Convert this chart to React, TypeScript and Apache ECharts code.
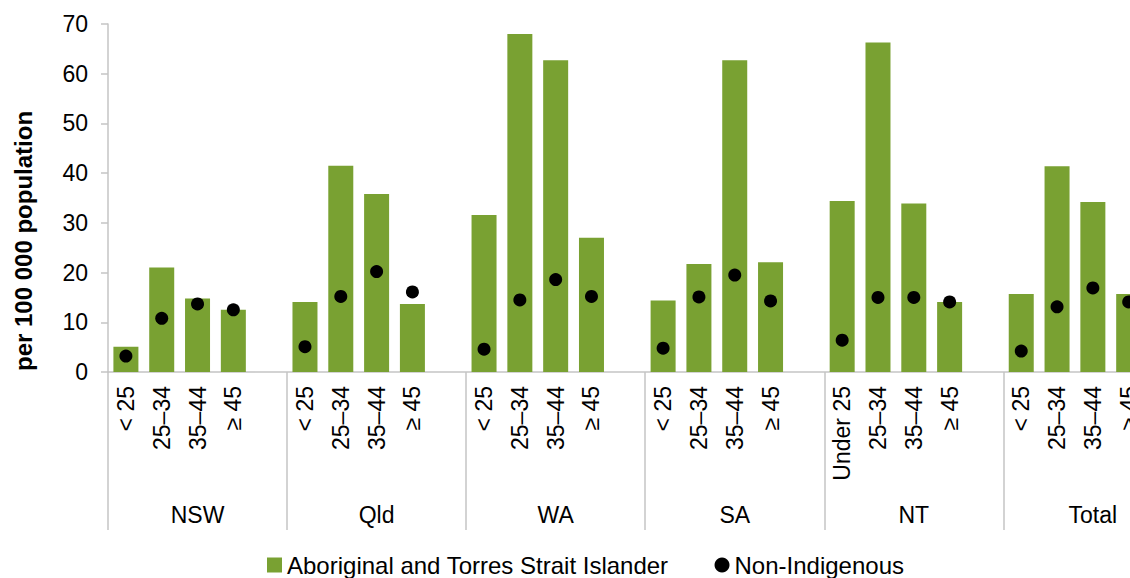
import React, { useEffect, useRef } from "react";
import * as echarts from "echarts";

const groups = ["NSW", "Qld", "WA", "SA", "NT", "Total"];
const ageLabels = ["< 25", "25–34", "35–44", "≥ 45"];
const ageLabelsNT = ["Under 25", "25–34", "35–44", "≥ 45"];

// Aboriginal and Torres Strait Islander (per 100 000)
const indNSW = [5.1, 21.0, 14.8, 12.5];
const indQld = [14.1, 41.5, 35.8, 13.7];
const indWA = [31.6, 68.0, 62.7, 27.0];
const indSA = [14.4, 21.7, 62.7, 22.1];
const indNT = [34.4, 66.3, 33.9, 14.1];
const indTotal = [15.7, 41.4, 34.2, 15.7];

// Non-Indigenous (per 100 000)
const nonNSW = [3.2, 10.8, 13.7, 12.5];
const nonQld = [5.1, 15.2, 20.2, 16.1];
const nonWA = [4.6, 14.5, 18.6, 15.2];
const nonSA = [4.8, 15.1, 19.5, 14.3];
const nonNT = [6.4, 15.0, 15.0, 14.1];
const nonTotal = [4.2, 13.1, 16.9, 14.1];

const yTicks = [0, 10, 20, 30, 40, 50, 60, 70];

const seriesNames = ["Aboriginal and Torres Strait Islander", "Non-Indigenous"];

const FONT = "'Liberation Sans', Arial, sans-serif";

export default function App() {
  const ref = useRef<HTMLDivElement>(null);

  useEffect(() => {
    if (!ref.current) return;
    const chart = echarts.init(ref.current, undefined, { renderer: "svg" });

    const indAll = [indNSW, indQld, indWA, indSA, indNT, indTotal];
    const nonAll = [nonNSW, nonQld, nonWA, nonSA, nonNT, nonTotal];

    const cats: string[] = [];
    const barData: (number | string)[] = [];
    const dotData: (number | string)[] = [];
    groups.forEach((g, gi) => {
      const labels = g === "NT" ? ageLabelsNT : ageLabels;
      labels.forEach((l, i) => {
        cats.push(l);
        barData.push(indAll[gi][i]);
        dotData.push(nonAll[gi][i]);
      });
      cats.push("");
      barData.push("-");
      dotData.push("-");
    });

    const axisGray = "#c4c4c4";

    chart.setOption({
      animation: false,
      backgroundColor: "#fff",
      textStyle: { fontFamily: FONT, color: "#000" },
      grid: { left: 108, right: 17.6, top: 24, bottom: 206, containLabel: false },
      legend: {
        left: 267,
        top: 553,
        padding: 0,
        itemWidth: 15,
        itemHeight: 15,
        itemGap: 46,
        textStyle: { fontFamily: FONT, fontSize: 24, color: "#000" },
        data: [
          { name: seriesNames[0], icon: "rect" },
          { name: seriesNames[1], icon: "circle" },
        ],
      },
      xAxis: [
        {
          type: "category",
          data: cats,
          position: "bottom",
          axisLine: { show: true, lineStyle: { color: axisGray, width: 1.5 } },
          axisTick: { show: false },
          axisLabel: {
            rotate: 90,
            interval: 0,
            margin: 14,
            fontSize: 23,
            fontFamily: FONT,
            color: "#000",
          },
          splitLine: { show: false },
        },
        {
          type: "category",
          data: groups,
          position: "bottom",
          axisLine: { show: false },
          axisTick: {
            show: true,
            inside: false,
            length: 158,
            lineStyle: { color: axisGray, width: 1.5 },
          },
          axisLabel: {
            interval: 0,
            margin: 131,
            fontSize: 23,
            fontFamily: FONT,
            color: "#000",
          },
          splitLine: { show: false },
        },
      ],
      yAxis: {
        type: "value",
        min: yTicks[0],
        max: yTicks[yTicks.length - 1],
        interval: 10,
        axisLine: { show: true, lineStyle: { color: axisGray, width: 1.5 } },
        axisTick: { show: true, length: 7, lineStyle: { color: axisGray, width: 1.5 } },
        axisLabel: { margin: 20, fontSize: 23, fontFamily: FONT, color: "#000" },
        splitLine: { show: false },
      },
      graphic: [
        {
          type: "text",
          x: 23,
          y: 241,
          rotation: Math.PI / 2,
          style: {
            text: "per 100 000 population",
            fontFamily: FONT,
            fontSize: 24,
            fontWeight: "bold",
            fill: "#000",
            align: "center",
            verticalAlign: "middle",
          },
        },
      ],
      series: [
        {
          name: seriesNames[0],
          type: "bar",
          xAxisIndex: 0,
          data: barData,
          barWidth: 25,
          itemStyle: { color: "#79a132" },
          z: 2,
        },
        {
          name: seriesNames[1],
          type: "scatter",
          xAxisIndex: 0,
          data: dotData,
          symbol: "circle",
          symbolSize: 13,
          itemStyle: { color: "#000", opacity: 1 },
          z: 3,
        },
      ],
    });

    return () => chart.dispose();
  }, []);

  return (
    <div
      style={{
        position: "fixed",
        left: 0,
        top: 0,
        width: 1130,
        height: 578,
        overflow: "hidden",
        background: "#fff",
      }}
    >
      <div ref={ref} style={{ width: 1200, height: 578 }} />
    </div>
  );
}
